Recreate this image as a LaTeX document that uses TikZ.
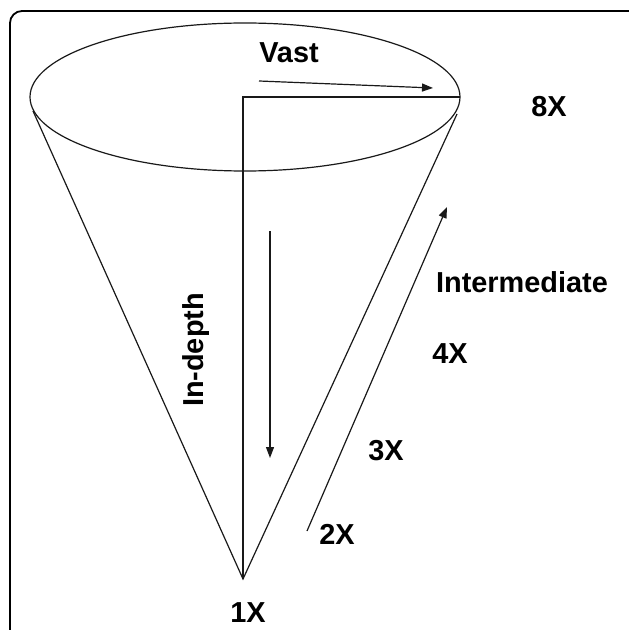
\documentclass[tikz,border=0pt]{standalone}
\usepackage{fontspec}
\setmainfont{Liberation Sans}
\usetikzlibrary{arrows.meta}
\begin{document}
\begin{tikzpicture}[x=1bp,y=-1bp,
  lbl/.style={font=\fontsize{29}{34}\selectfont\bfseries, inner sep=0pt},
  ln/.style={line width=1.2bp, black!90},
  arr/.style={ln, -{Triangle[length=11bp,width=8bp]}}]
\useasboundingbox (0,0) rectangle (629,630);
\fill[white] (0,0) rectangle (629,630);
% frame
\draw[line width=1.8bp, rounded corners=12bp] (10,650) -- (10,11) -- (650,11);
% cone
\coordinate (c) at (245,97);
\coordinate (apex) at (243,579);
\coordinate (lt) at (33,111);
\coordinate (rt) at (457,114);
\coordinate (rim) at (460,97);
\draw[ln] (c) ellipse [x radius=215, y radius=74];
\draw[ln] (lt) -- (apex) -- (rt);
\draw[ln] (apex) -- (243,97) -- (rim);
% arrows
\coordinate (va) at (259,81);
\coordinate (vb) at (433,88);
\draw[arr] (va) -- (vb);
\coordinate (da) at (270,231);
\coordinate (db) at (270,458);
\draw[arr] (da) -- (db);
\coordinate (ia) at (307,531);
\coordinate (ib) at (447,207);
\draw[arr] (ia) -- (ib);
% labels
\node[lbl] (vast) at (289,53) {Vast};
\node[lbl] (x8) at (549,107) {8X};
\node[lbl] (inter) at (522,282) {Intermediate};
\node[lbl] (x4) at (450,354) {4X};
\node[lbl] (x3) at (386,451) {3X};
\node[lbl] (x2) at (337,534) {2X};
\node[lbl] (x1) at (248,613) {1X};
\node[lbl, rotate=90] (depth) at (196,350) {In-depth};
\end{tikzpicture}
\end{document}
